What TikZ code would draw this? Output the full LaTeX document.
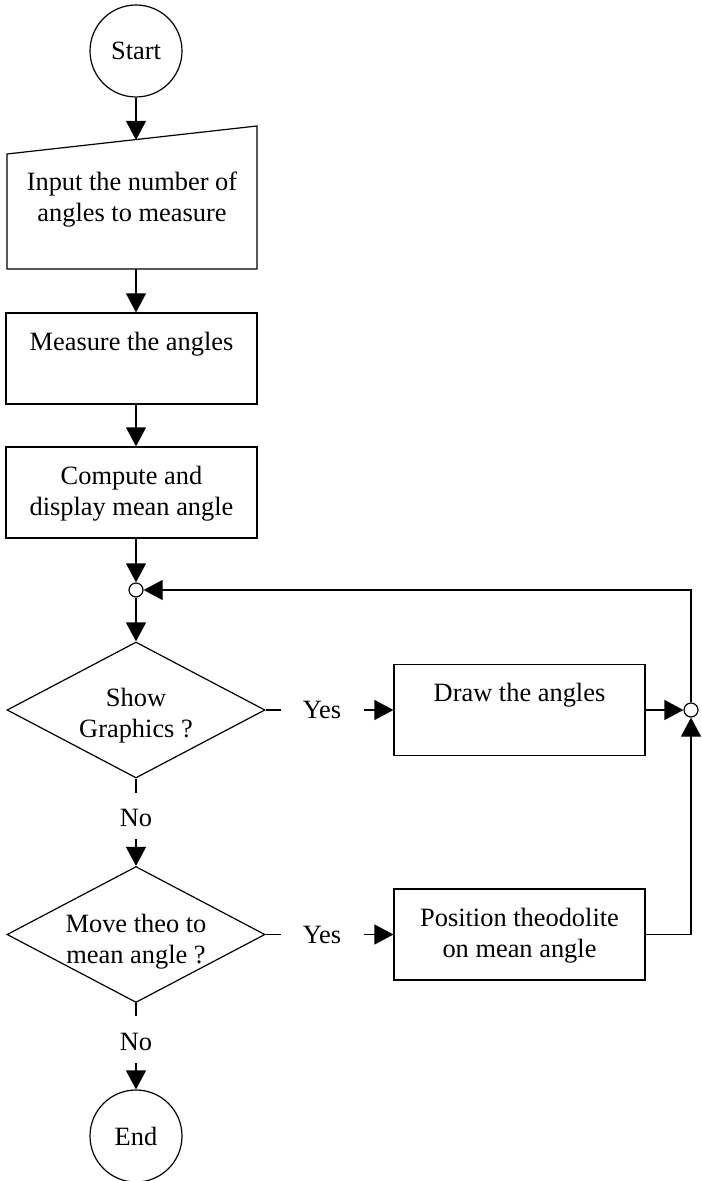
\documentclass[tikz,border=0pt]{standalone}
\usepackage{fontspec}
\setmainfont{Liberation Serif}
\usetikzlibrary{shapes.geometric,arrows.meta}
\tikzset{
  arr/.style={-{Triangle[length=9.5pt,width=10pt]}},
  term/.style={circle,draw,minimum size=46pt,inner sep=0pt},
  joint/.style={circle,draw,fill=white,minimum size=7pt,inner sep=0pt},
  proc/.style={draw,minimum width=125.5pt,minimum height=45.5pt,inner sep=0pt},
  test/.style={diamond,draw,minimum width=129pt,minimum height=68pt,inner sep=0pt,aspect=1.9},
  txt/.style={inner sep=0pt,anchor=north,align=center},
  lbl/.style={inner sep=0pt,align=center}
}
\begin{document}
\begin{tikzpicture}[x=0.5pt,y=-0.5pt,line width=0.6pt,font=\fontsize{13.2}{15.5}\selectfont]
\useasboundingbox (0,0) rectangle (701,1181);
% main column
\node[term] (start) at (136,51) {Start};
\draw (7,154) -- (257,126) -- (257,269) -- (7,269) -- cycle;
\coordinate (intop) at (136,140);
\coordinate (inbot) at (136,269);
\node[txt] (inp) at (132,171) {Input the number of\\angles to measure};
\node[proc] (meas) at (131.5,358.5) {};
\node[txt] (meast) at ([yshift=-9.5pt]meas.north) {Measure the angles};
\node[proc] (comp) at (131.5,492.5) {};
\node[txt] (compt) at ([yshift=-9.5pt]comp.north) {Compute and\\display mean angle};
\node[joint] (j1) at (136,590) {};
\node[test] (d1) at (136,710) {};
\node[lbl] (d1t) at ([yshift=-3pt]d1.center) {Show\\Graphics ?};
\node[test] (d2) at (136,934.5) {};
\node[lbl] (d2t) at ([yshift=-3.5pt]d2.center) {Move theo to\\mean angle ?};
\node[term] (end) at (136,1136) {End};
% right column
\node[proc] (drw) at (519.5,710) {};
\node[txt] (drwt) at ([yshift=-9.5pt]drw.north) {Draw the angles};
\node[proc] (pos) at (519.5,934.5) {};
\node[txt] (post) at ([yshift=-9.5pt]pos.north) {Position theodolite\\on mean angle};
\node[joint] (j2) at (691,710) {};
% labels
\node[lbl] (yes1) at (322,710) {Yes};
\node[lbl] (yes2) at (322,934.5) {Yes};
\node[lbl] (no1) at (136,818) {No};
\node[lbl] (no2) at (136,1042) {No};
% connectors
\draw[arr] (start) -- (intop);
\draw[arr] (inbot) -- (inbot |- meas.north);
\draw[arr] (start |- meas.south) -- (start |- comp.north);
\draw[arr] (start |- comp.south) -- (j1);
\draw[arr] (j1) -- (d1);
\draw (d1.east) -- ++(15,0);
\draw[arr] ([xshift=11pt]yes1.east) -- (drw.west);
\draw[arr] (drw) -- (j2);
\draw[arr] (j2) |- (j1);
\draw (d1.south) -- ++(0,14);
\draw[arr] ([yshift=-6pt]no1.south) -- (d2);
\draw (d2.east) -- ++(15,0);
\draw[arr] ([xshift=11pt]yes2.east) -- (pos.west);
\draw[arr] (pos.east) -| (j2);
\draw (d2.south) -- ++(0,13);
\draw[arr] ([yshift=-6pt]no2.south) -- (end);
\end{tikzpicture}
\end{document}
